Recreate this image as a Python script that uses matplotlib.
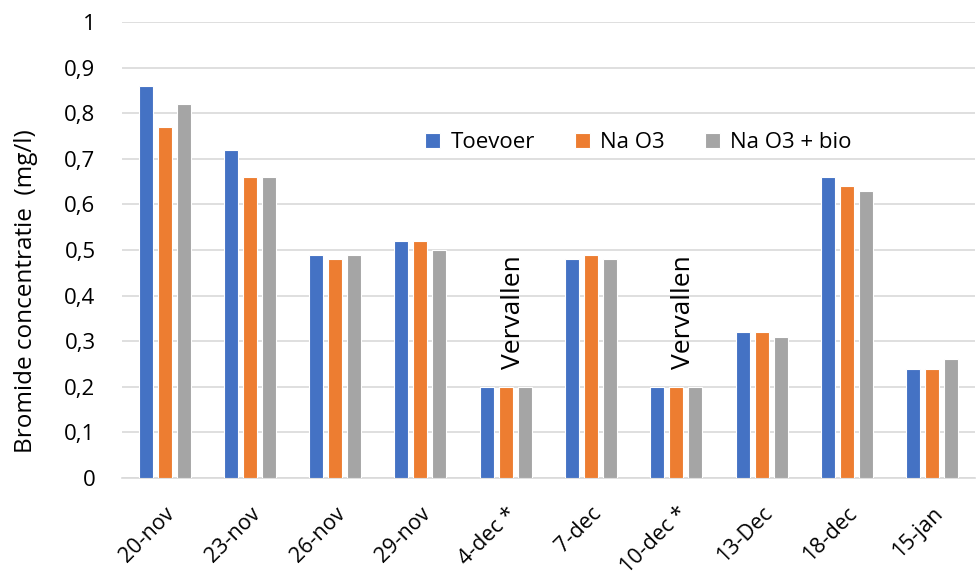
import matplotlib
matplotlib.use("Agg")
import matplotlib.pyplot as plt
import numpy as np
from matplotlib.ticker import FuncFormatter

plt.rcParams['font.family'] = ['Open Sans', 'DejaVu Sans']

dates = ["20-nov", "23-nov", "26-nov", "29-nov", "4-dec *", "7-dec",
         "10-dec *", "13-Dec", "18-dec", "15-jan"]
toevoer = [0.86, 0.72, 0.49, 0.52, 0.20, 0.48, 0.20, 0.32, 0.66, 0.24]
na_o3 = [0.77, 0.66, 0.48, 0.52, 0.20, 0.49, 0.20, 0.32, 0.64, 0.24]
na_o3_bio = [0.82, 0.66, 0.49, 0.50, 0.20, 0.48, 0.20, 0.31, 0.63, 0.26]
series_names = ["Toevoer", "Na O3", "Na O3 + bio"]
colors = ["#4472C4", "#ED7D31", "#A5A5A5"]
note_label = "Vervallen"
note_dates = ["4-dec *", "10-dec *"]

fig = plt.figure(figsize=(9.78, 5.78), dpi=100)
ax = fig.add_axes([0.1247, 0.173, 0.872, 0.789])

x = np.arange(len(dates))
width = 0.165
step = 0.223
for k, (vals, name, col) in enumerate(zip([toevoer, na_o3, na_o3_bio], series_names, colors)):
    ax.bar(x + (k - 1) * step, vals, width=width, color=col, label=name,
           edgecolor="white", linewidth=0.8, zorder=3)

for d in note_dates:
    i = dates.index(d)
    top = max(toevoer[i], na_o3[i], na_o3_bio[i])
    ax.text(i + 0.09, top + 0.04, note_label, rotation=90, ha="center", va="bottom",
            fontsize=19, color="black")

ax.set_xlim(-0.5, len(dates) - 0.5)
ax.set_ylim(0, 1)
ax.set_yticks(np.arange(0, 1.01, 0.1))
ax.yaxis.set_major_formatter(FuncFormatter(
    lambda v, p: "0" if abs(v) < 1e-9 else ("1" if abs(v - 1) < 1e-9 else f"{v:.1f}".replace(".", ","))))
ax.set_xticks(x)
ax.set_xticklabels(dates, rotation=45, ha="right", rotation_mode="anchor")

ax.grid(axis="y", color="#D9D9D9", linewidth=1.2, zorder=0)
for s in ["top", "right", "left"]:
    ax.spines[s].set_visible(False)
ax.spines["bottom"].set_color("#D9D9D9")
ax.spines["bottom"].set_linewidth(1.2)
ax.tick_params(axis="both", length=0, labelsize=16, colors="#000000")
ax.tick_params(axis="y", pad=19)
ax.tick_params(axis="x", pad=18, labelsize=15.5)

ax.set_ylabel("Bromide concentratie  (mg/l)", fontsize=17.5)
ax.yaxis.set_label_coords(-0.0985, 0.41)

ax.legend(loc="center left", bbox_to_anchor=(0.355, 0.735), ncol=3, frameon=False,
          fontsize=16, handlelength=0.7, handleheight=0.7, handletextpad=0.45,
          columnspacing=1.8, borderpad=0, borderaxespad=0)

fig.savefig("out.png", dpi=100)
